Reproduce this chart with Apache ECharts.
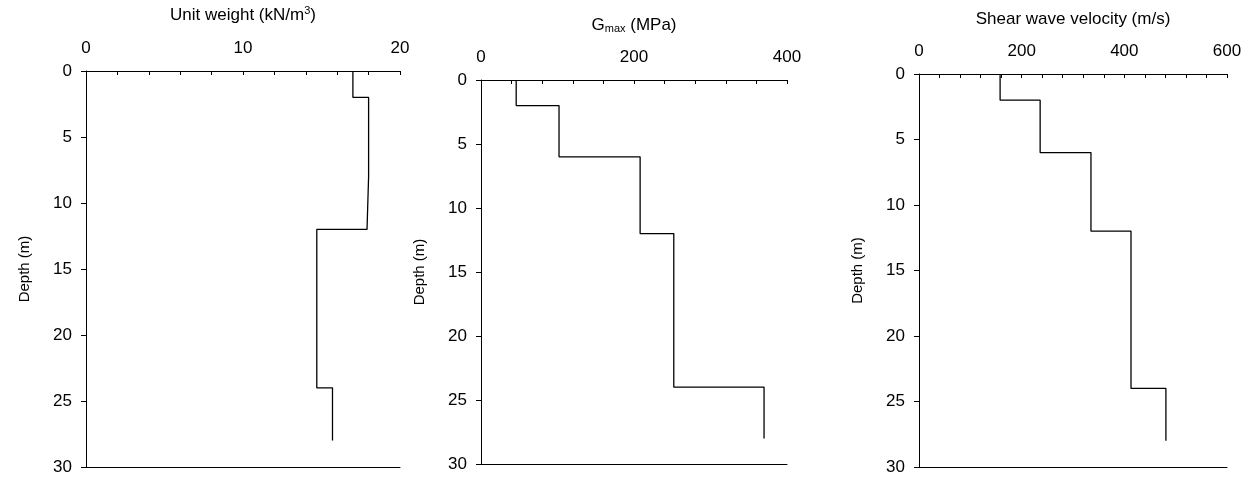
<!DOCTYPE html>
<html><head><meta charset="utf-8">
<script src="https://cdn.jsdelivr.net/npm/echarts@6/dist/echarts.min.js"></script>
<style>html,body{margin:0;background:#fff}#main{width:1255px;height:477px}</style>
</head><body><div id="main"></div>
<script>
// layer boundaries (m)
var layerTop = [0, 2, 6, 8, 12, 24];
var layerBottom = [2, 6, 8, 12, 24, 28];
var unitWeight = [17.0, 18.0, 18.0, 17.9, 14.7, 15.7];
var gmax = [46, 102, 208, 208, 252, 370];
var vs = [158, 236, 335, 335, 413, 481];

function steps(vals) {
    var pts = [];
    for (var i = 0; i < vals.length; i++) {
        pts.push([vals[i], layerTop[i]]);
        pts.push([vals[i], layerBottom[i]]);
    }
    return pts;
}

var font = 'Liberation Sans, Arial, sans-serif';
var grids = [
    { left: 86, width: 314, top: 68, height: 399 },
    { left: 481, width: 306, top: 80, height: 384 },
    { left: 919, width: 308, top: 74, height: 393 }
];
var xs = [
    { max: 20, interval: 10, name: 'Unit weight (kN/m{sup|3})' },
    { max: 400, interval: 200, name: 'G{sub|max} (MPa)' },
    { max: 600, interval: 200, name: 'Shear wave velocity (m/s)' }
];
var nameRich = {
    sup: { fontSize: 11, verticalAlign: 'top', padding: [0, 0, 9, 0], fontFamily: font, color: '#000' },
    sub: { fontSize: 11, verticalAlign: 'bottom', padding: [7, 0, 0, 0], fontFamily: font, color: '#000' }
};

var xAxis = [], yAxis = [], series = [];
var datasets = [unitWeight, gmax, vs];
for (var k = 0; k < 3; k++) {
    xAxis.push({
        gridIndex: k, type: 'value', position: 'top', min: 0, max: xs[k].max, interval: xs[k].interval,
        name: xs[k].name, nameLocation: 'middle', nameGap: 46,
        nameTextStyle: { fontFamily: font, fontSize: 17, color: '#000', rich: nameRich },
        axisLine: { show: true, lineStyle: { color: '#000', width: 1 } },
        axisTick: { show: true, inside: true, length: 4, lineStyle: { color: '#000' } },
        minorTick: { show: true, splitNumber: 5, length: 4, lineStyle: { color: '#000' } },
        axisLabel: { fontFamily: font, fontSize: 17, color: '#000', margin: 14 },
        splitLine: { show: false }
    });
    xAxis.push({
        gridIndex: k, type: 'value', position: 'bottom', min: 0, max: xs[k].max,
        axisLine: { show: true, lineStyle: { color: '#000', width: 1 } },
        axisTick: { show: false }, axisLabel: { show: false }, splitLine: { show: false }
    });
    yAxis.push({
        gridIndex: k, type: 'value', inverse: true, min: 0, max: 30, interval: 5,
        name: 'Depth (m)', nameLocation: 'middle', nameGap: 54, nameRotate: 90,
        nameTextStyle: { fontFamily: font, fontSize: 15, color: '#000' },
        axisLine: { show: true, lineStyle: { color: '#000', width: 1 } },
        axisTick: { show: true, length: 5, lineStyle: { color: '#000' } },
        axisLabel: { fontFamily: font, fontSize: 17, color: '#000', margin: 14 },
        splitLine: { show: false }
    });
    series.push({
        type: 'line', xAxisIndex: k * 2, yAxisIndex: k, data: steps(datasets[k]),
        showSymbol: false, lineStyle: { color: '#000', width: 1.3 }, animation: false
    });
}

var chart = echarts.init(document.getElementById('main'));
chart.setOption({
    backgroundColor: '#fff',
    grid: grids,
    xAxis: xAxis,
    yAxis: yAxis,
    series: series
});
</script>
</body></html>
